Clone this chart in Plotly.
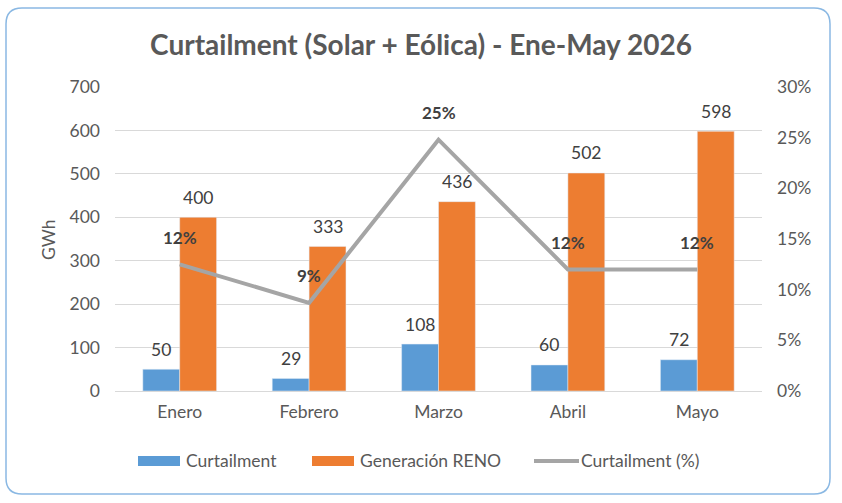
import plotly.graph_objects as go

months = ["Enero", "Febrero", "Marzo", "Abril", "Mayo"]
curtailment = [50, 29, 108, 60, 72]
generacion = [400, 333, 436, 502, 598]
curt_pct = [0.125, 0.087, 0.248, 0.120, 0.120]
pct_labels = ["12%", "9%", "25%", "12%", "12%"]
left_ticks = [0, 100, 200, 300, 400, 500, 600, 700]
right_ticks = [0, 0.05, 0.10, 0.15, 0.20, 0.25, 0.30]
right_tick_text = ["0%", "5%", "10%", "15%", "20%", "25%", "30%"]

BLUE = "#5b9bd5"
ORANGE = "#ed7d31"
GRAY = "#a5a5a5"
TXT = "#595959"
LBL = "#404040"
FONT = "Lato"
FS = 17.5

W, H = 842, 503
L, R, T, B = 115, 762, 87, 391  # plot area pixels


def px(X):
    return (X - L) / (R - L)


def py(Y):
    return (B - Y) / (B - T)


fig = go.Figure()
fig.add_trace(go.Bar(x=months, y=curtailment, name="Curtailment", marker_color=BLUE,
                     showlegend=False))
fig.add_trace(go.Bar(x=months, y=generacion, name="Generación RENO", marker_color=ORANGE,
                     showlegend=False))
fig.add_trace(go.Scatter(x=months, y=curt_pct, name="Curtailment (%)", yaxis="y2",
                         mode="lines", line=dict(color=GRAY, width=4), showlegend=False))

annotations = []
off = 0.1425
for i, (c, g) in enumerate(zip(curtailment, generacion)):
    annotations.append(dict(x=i - off, y=c, xref="x", yref="y", text=str(c), showarrow=False,
                            yshift=20, font=dict(size=FS, color=LBL, family=FONT)))
    annotations.append(dict(x=i + off, y=g, xref="x", yref="y", text=str(g), showarrow=False,
                            yshift=20, font=dict(size=FS, color=LBL, family=FONT)))
for i, (p, t) in enumerate(zip(curt_pct, pct_labels)):
    annotations.append(dict(x=i, y=p, xref="x", yref="y2", text="<b>" + t + "</b>",
                            showarrow=False, yshift=27,
                            font=dict(size=17, color=LBL, family=FONT)))

# y-axis title
annotations.append(dict(x=px(48), y=py(240), xref="paper", yref="paper", text="GWh",
                        textangle=-90, showarrow=False, xanchor="center", yanchor="middle",
                        font=dict(size=FS, color=TXT, family=FONT)))

# custom legend
shapes = []
leg_y = 461
shapes.append(dict(type="rect", xref="paper", yref="paper", x0=px(138), x1=px(180),
                   y0=py(466), y1=py(456), fillcolor=BLUE, line=dict(width=0)))
shapes.append(dict(type="rect", xref="paper", yref="paper", x0=px(312), x1=px(354),
                   y0=py(466), y1=py(456), fillcolor=ORANGE, line=dict(width=0)))
shapes.append(dict(type="line", xref="paper", yref="paper", x0=px(534), x1=px(579),
                   y0=py(leg_y), y1=py(leg_y), line=dict(color=GRAY, width=4)))
for X, txt in [(184, "Curtailment"), (358, "Generación RENO"), (579, "Curtailment (%)")]:
    annotations.append(dict(x=px(X), y=py(leg_y), xref="paper", yref="paper", text=txt,
                            xanchor="left", yanchor="middle", showarrow=False,
                            font=dict(size=FS, color=TXT, family=FONT)))

# rounded border
x0, x1, y0, y1, r = 6, 830, 8, 494, 16
path = (f"M {px(x0 + r)},{py(y0)} L {px(x1 - r)},{py(y0)} "
        f"Q {px(x1)},{py(y0)} {px(x1)},{py(y0 + r)} "
        f"L {px(x1)},{py(y1 - r)} Q {px(x1)},{py(y1)} {px(x1 - r)},{py(y1)} "
        f"L {px(x0 + r)},{py(y1)} Q {px(x0)},{py(y1)} {px(x0)},{py(y1 - r)} "
        f"L {px(x0)},{py(y0 + r)} Q {px(x0)},{py(y0)} {px(x0 + r)},{py(y0)} Z")
shapes.append(dict(type="path", xref="paper", yref="paper", path=path,
                   line=dict(color="#8ab8e3", width=1.5), layer="above"))

fig.update_layout(
    width=W, height=H,
    margin=dict(l=L, r=W - R, t=T, b=H - B),
    paper_bgcolor="white", plot_bgcolor="white",
    barmode="group", bargap=0.43, bargroupgap=0,
    title=dict(text="<b>Curtailment (Solar + Eólica) - Ene-May 2026</b>",
               x=0.5, xref="container", xanchor="center",
               y=1 - 45 / H, yref="container", yanchor="middle",
               font=dict(size=28, color=TXT, family=FONT)),
    font=dict(family=FONT, color=TXT, size=FS),
    xaxis=dict(type="category", showgrid=False, showline=True, linecolor="#d9d9d9",
               linewidth=1, ticks="", tickfont=dict(size=FS, color=TXT),
               ticklabelstandoff=5),
    yaxis=dict(range=[0, 700], tickvals=left_ticks, showgrid=True, gridcolor="#d9d9d9",
               gridwidth=1, zeroline=False, showline=False, ticks="",
               tickfont=dict(size=FS, color=TXT), ticklabelstandoff=14),
    yaxis2=dict(range=[0, 0.30], tickvals=right_ticks, ticktext=right_tick_text,
                overlaying="y", side="right", showgrid=False, zeroline=False,
                showline=False, ticks="", tickfont=dict(size=FS, color=TXT),
                ticklabelstandoff=14),
    showlegend=False,
    annotations=annotations,
    shapes=shapes,
)

fig.write_html("out.html")
